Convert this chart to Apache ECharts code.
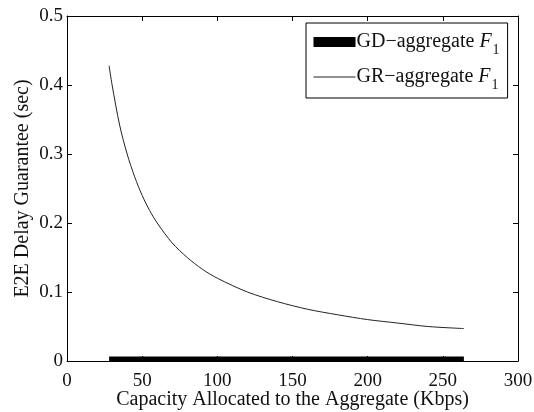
<!DOCTYPE html>
<html>
<head>
<meta charset="utf-8">
<script src="https://cdn.jsdelivr.net/npm/echarts@6/dist/echarts.min.js"></script>
<style>
html,body{margin:0;padding:0;background:#fff;}
#main{width:534px;height:412px;}
</style>
</head>
<body>
<div id="main"></div>
<script>
// capacity (Kbps) on x, delay guarantee (sec) on y
var grX = [28, 30, 35, 40, 45, 50, 55, 60, 70, 80, 90, 100, 120, 140, 160, 180, 200, 220, 240, 264];
var grY = [0.428, 0.40, 0.342, 0.30, 0.267, 0.24, 0.218, 0.20, 0.171, 0.15, 0.133, 0.12, 0.10, 0.086, 0.075, 0.067, 0.06, 0.055, 0.05, 0.047];
var gdX = [28, 264];
var gdY = [0.003, 0.003];
var xTicks = [0, 50, 100, 150, 200, 250, 300];
var yTicks = [0, 0.1, 0.2, 0.3, 0.4, 0.5];

var fam = 'Liberation Serif';
var dom = document.getElementById("main");
var myChart = echarts.init(dom);

function pairs(xs, ys){
    var out = [];
    for (var i = 0; i < xs.length; i++) out.push([xs[i], ys[i]]);
    return out;
}

var axisLine = {show: true, onZero: false, lineStyle: {color: '#000', width: 1}};
var tick = {show: true, inside: true, length: 5, lineStyle: {color: '#000'}};

var option = {
    backgroundColor: '#fff',
    animation: false,
    grid: {left: 67, right: 16, top: 16, bottom: 51, containLabel: false, outerBoundsMode: 'none'},
    legend: {
        left: 306, top: 23,
        orient: 'vertical',
        padding: [9, 8, 6, 7],
        itemWidth: 42, itemHeight: 10,
        itemGap: 10,
        borderColor: '#000', borderWidth: 1,
        backgroundColor: '#fff',
        data: [
            {name: 'GD−aggregate', icon: 'rect', itemStyle: {color: '#000'}},
            {name: 'GR−aggregate', itemStyle: {opacity: 0}, lineStyle: {color: '#222', width: 1}}
        ],
        formatter: function(name){ return name + ' {f|F}{s|1}'; },
        textStyle: {
            fontFamily: fam, fontSize: 20, color: '#111', padding: [0, 0, 0, -4],
            rich: {
                f: {fontFamily: fam, fontSize: 20, fontStyle: 'italic', color: '#111'},
                s: {fontFamily: fam, fontSize: 14, color: '#111', padding: [16, 0, 0, 1]}
            }
        }
    },
    xAxis: [{
        type: 'value', min: 0, max: 300, interval: 50,
        name: 'Capacity Allocated to the Aggregate (Kbps)',
        nameLocation: 'middle', nameGap: 29, nameMoveOverlap: false,
        nameTextStyle: {fontFamily: fam, fontSize: 20, color: '#111'},
        axisLine: axisLine, axisTick: tick,
        axisLabel: {fontFamily: fam, fontSize: 19, color: '#111', margin: 11,
            formatter: function(v){ return xTicks.indexOf(v) >= 0 ? String(v) : ''; }},
        splitLine: {show: false}
    }, {
        type: 'value', min: 0, max: 300, interval: 50, position: 'top',
        axisLine: axisLine, axisTick: tick, axisLabel: {show: false}, splitLine: {show: false}
    }],
    yAxis: [{
        type: 'value', min: 0, max: 0.5, interval: 0.1,
        name: 'E2E Delay Guarantee (sec)',
        nameLocation: 'middle', nameGap: 34, nameMoveOverlap: false,
        nameTextStyle: {fontFamily: fam, fontSize: 20, color: '#111'},
        axisLine: axisLine, axisTick: tick,
        axisLabel: {fontFamily: fam, fontSize: 19, color: '#111', margin: 4,
            formatter: function(v){ return String(+v.toFixed(1)); }},
        splitLine: {show: false}
    }, {
        type: 'value', min: 0, max: 0.5, interval: 0.1, position: 'right',
        axisLine: axisLine, axisTick: tick, axisLabel: {show: false}, splitLine: {show: false}
    }],
    series: [
        {
            name: 'GD−aggregate', type: 'line', symbol: 'none',
            lineStyle: {color: '#000', width: 5, cap: 'butt'},
            itemStyle: {color: '#000'},
            data: pairs(gdX, gdY)
        },
        {
            name: 'GR−aggregate', type: 'line', symbol: 'none', smooth: 0.3,
            lineStyle: {color: '#222', width: 1},
            itemStyle: {color: '#222'},
            data: pairs(grX, grY)
        }
    ]
};

if (option && typeof option === "object") {
    myChart.setOption(option, true);
}
</script>
</body>
</html>
